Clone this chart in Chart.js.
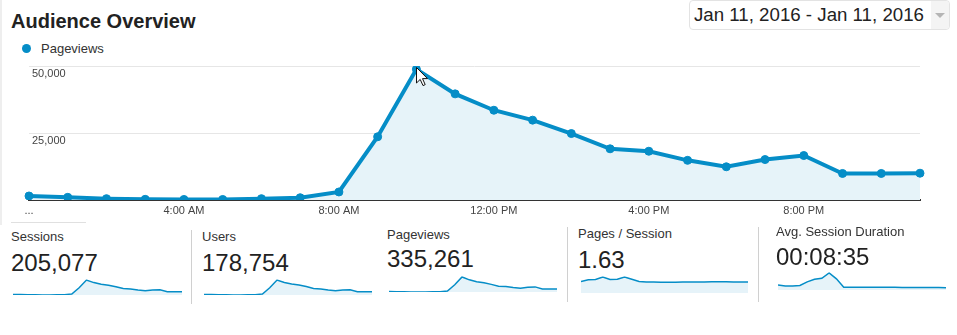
<!DOCTYPE html>
<html>
<head>
<meta charset="utf-8">
<title>Audience Overview</title>
<script src="https://cdn.jsdelivr.net/npm/chart.js@4.4.1/dist/chart.umd.min.js"></script>
<style>
  body { margin: 0; width: 957px; height: 335px; background: #fff; position: relative; overflow: hidden;
         font-family: "Liberation Sans", Arial, sans-serif; }
  .abs { position: absolute; white-space: nowrap; }
  .title { left: 11px; top: 11px; font-size: 20px; line-height: 20px; font-weight: bold; color: #222; }
  .legend { left: 41px; top: 42px; font-size: 13px; line-height: 13px; color: #333; }
  .legend-dot { left: 22px; top: 44px; width: 9px; height: 9px; border-radius: 50%; background: #058dc7; }
  .datebox { left: 689px; top: 0; width: 259px; height: 28px; border: 1px solid #e3e3e3; border-radius: 4px;
             font-size: 18.7px; line-height: 28px; color: #222; box-sizing: content-box; }
  .datebox span { position: absolute; left: 4px; top: 0; }
  .datebox .drop { position: absolute; right: 0; top: 0; width: 18px; height: 28px; background: #f4f4f4; border-radius: 0 4px 4px 0; }
  .datebox .drop:after { content: ""; position: absolute; left: 4px; top: 12px; border-left: 5px solid transparent;
             border-right: 5px solid transparent; border-top: 5px solid #b5b5b5; }
  .mlabel { font-size: 13px; line-height: 13px; color: #333; }
  .mvalue { font-size: 24px; line-height: 24px; color: #222; }
  .sep { width: 1px; background: #d0d0d0; }
  canvas { position: absolute; }
</style>
</head>
<body>
<script>
// hourly pageviews, Jan 11 2016
const hours = ['12:00 AM', '1:00 AM', '2:00 AM', '3:00 AM', '4:00 AM', '5:00 AM', '6:00 AM', '7:00 AM',
               '8:00 AM', '9:00 AM', '10:00 AM', '11:00 AM', '12:00 PM', '1:00 PM', '2:00 PM', '3:00 PM',
               '4:00 PM', '5:00 PM', '6:00 PM', '7:00 PM', '8:00 PM', '9:00 PM', '10:00 PM', '11:00 PM'];
const tickLabels = ['...', '', '', '', '4:00 AM', '', '', '', '8:00 AM', '', '', '', '12:00 PM', '', '', '',
                    '4:00 PM', '', '', '', '8:00 PM', '', '', ''];
const pageviews = [1500, 1000, 500, 250, 200, 200, 500, 850, 3000, 23600, 48800, 39600,
                   33500, 29800, 24800, 19100, 18200, 14800, 12400, 15100, 16600, 9900, 9900, 10000];

// sparkline series (same hours)
const sessions = [1200, 800, 500, 300, 200, 200, 400, 700, 2000, 14000, 29000, 24000,
                  21000, 19000, 16000, 12500, 11500, 9500, 8000, 9500, 10000, 6300, 6200, 6200];
const users = [1000, 700, 400, 300, 200, 200, 300, 600, 1700, 12000, 25000, 21000,
               18500, 16500, 14000, 11000, 10000, 8300, 7000, 8200, 8700, 5500, 5400, 5400];
const pagesPerSession = [1.69, 1.95, 1.98, 2.35, 1.98, 2.02, 2.35, 2.02, 1.69, 1.6, 1.6, 1.59,
                         1.59, 1.59, 1.6, 1.61, 1.62, 1.63, 1.64, 1.65, 1.64, 1.62, 1.63, 1.63];
const avgDuration = [441, 353, 353, 397, 706, 926, 1015, 1474, 970, 238, 238, 236,
                     235, 233, 232, 230, 228, 225, 222, 218, 215, 210, 206, 200];

const metricNames = ['Sessions', 'Users', 'Pageviews', 'Pages / Session', 'Avg. Session Duration'];
const metricValues = ['205,077', '178,754', '335,261', '1.63', '00:08:35'];
const metricSeries = [sessions, users, pageviews, pagesPerSession, avgDuration];

const blue = '#058dc7';
const lightBlue = '#e6f3f9';
const font = '"Liberation Sans", Arial, sans-serif';

function el(cls, html, style) {
    const d = document.createElement('div');
    d.className = 'abs ' + cls;
    if (html) d.innerHTML = html;
    if (style) Object.assign(d.style, style);
    document.body.appendChild(d);
    return d;
}

el('title', 'Audience Overview');
el('legend-dot');
el('legend', 'Pageviews');
el('datebox', '<span>Jan 11, 2016 - Jan 11, 2016</span><div class="drop"></div>');
el('', '', { left: '0px', top: '0px', width: '2px', height: '225px', background: '#eeeeee' });
el('', '', { left: '11px', top: '222px', width: '75px', height: '1px', background: '#e0e0e0' });

// metric blocks: [left, label top, value top, spark left, spark right, spark top, spark bottom]
const blocks = [
    [11, 230, 251, 13, 182, 280, 295],
    [202, 230, 251, 204, 372, 280, 295],
    [387, 228, 247, 389, 557, 277, 292],
    [578, 227, 248, 581, 748, 277, 293],
    [776, 225, 245, 778, 946, 273, 290]
];
[[191, 230, 74], [567, 227, 75], [758, 227, 75]].forEach(s => {
    el('sep', '', { left: s[0] + 'px', top: s[1] + 'px', height: s[2] + 'px' });
});

Chart.defaults.font.family = font;
Chart.defaults.animation = false;

const mainCanvas = document.createElement('canvas');
mainCanvas.width = 957;
mainCanvas.height = 170;
mainCanvas.style.left = '0px';
mainCanvas.style.top = '56px';
document.body.appendChild(mainCanvas);

new Chart(mainCanvas.getContext('2d'), {
    type: 'line',
    data: {
        labels: hours,
        datasets: [{
            label: 'Pageviews',
            data: pageviews,
            borderColor: blue,
            backgroundColor: lightBlue,
            fill: 'origin',
            borderWidth: 4,
            pointRadius: 4,
            pointBorderWidth: 1,
            pointBackgroundColor: blue,
            pointBorderColor: blue,
            tension: 0
        }]
    },
    options: {
        responsive: false,
        devicePixelRatio: 1,
        events: [],
        layout: { padding: { left: 29, right: 37, top: 10, bottom: 6 } },
        plugins: { legend: { display: false }, tooltip: { enabled: false } },
        scales: {
            x: {
                grid: { display: false, drawTicks: false },
                border: { display: true, color: '#333', width: 2 },
                ticks: {
                    autoSkip: false, maxRotation: 0, padding: 4, color: '#444',
                    font: { size: 11 },
                    callback: (v, i) => tickLabels[i]
                },
                afterFit: s => { s.height = 20; }
            },
            y: {
                min: 0,
                max: 50000,
                ticks: {
                    stepSize: 25000, mirror: true, padding: 3, labelOffset: 8, color: '#444',
                    font: { size: 11 },
                    callback: v => v === 0 ? '' : v.toLocaleString('en-US')
                },
                grid: {
                    drawTicks: false,
                    color: c => (c.tick && c.tick.value === 0) ? 'rgba(0,0,0,0)' : '#e6e6e6'
                },
                border: { display: false },
                afterFit: s => { s.width = 0; }
            }
        }
    }
});

blocks.forEach((b, i) => {
    el('mlabel', metricNames[i], { left: b[0] + 'px', top: b[1] + 'px' });
    el('mvalue', metricValues[i], { left: b[0] + 'px', top: b[2] + 'px' });

    const c = document.createElement('canvas');
    c.width = b[4] - b[3];
    c.height = b[6] - b[5] + 3;
    c.style.left = b[3] + 'px';
    c.style.top = (b[5] - 2) + 'px';
    document.body.appendChild(c);

    new Chart(c.getContext('2d'), {
        type: 'line',
        data: {
            labels: hours,
            datasets: [{
                data: metricSeries[i],
                borderColor: blue,
                backgroundColor: lightBlue,
                fill: 'origin',
                borderWidth: 1.5,
                pointRadius: 0,
                tension: 0
            }]
        },
        options: {
            responsive: false,
            devicePixelRatio: 1,
            events: [],
            layout: { padding: { top: 2, bottom: 1, left: 0, right: 0 } },
            plugins: { legend: { display: false }, tooltip: { enabled: false } },
            scales: {
                x: { display: false },
                y: { display: false, min: 0, bounds: 'data' }
            }
        }
    });
});
</script>
<svg class="abs" style="left:416px;top:67px" width="13" height="20" viewBox="0 0 13 20">
  <path d="M0.5 0.5 L0.5 16 L4.2 12.4 L7 18.6 L9.2 17.6 L6.5 11.6 L11.5 11.6 Z" fill="#fff" stroke="#111" stroke-width="1"/>
</svg>
</body>
</html>
